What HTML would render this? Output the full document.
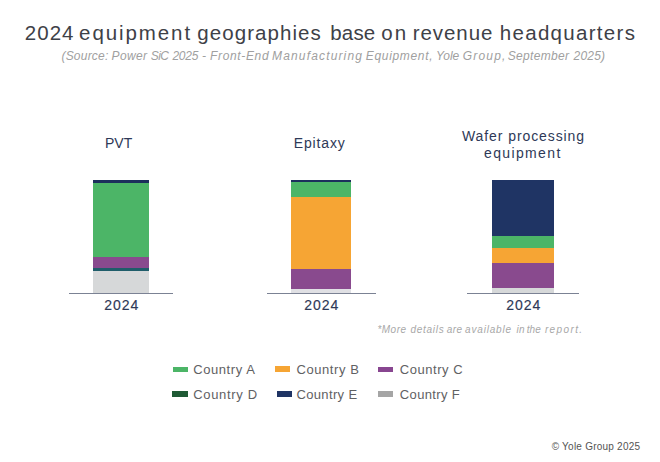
<!DOCTYPE html>
<html>
<head>
<meta charset="utf-8">
<style>
html,body{margin:0;padding:0;background:#fff;}
body{width:660px;height:462px;position:relative;overflow:hidden;font-family:"Liberation Sans",sans-serif;}
.t{position:absolute;white-space:nowrap;line-height:1;}
.b{position:absolute;}
.tw{top:23px;font-size:20.5px;color:#3e4147;letter-spacing:1.1px;}
.sw2{top:49.5px;font-size:12px;font-style:italic;color:#a0a0a0;letter-spacing:0.45px;}
.cat{font-size:14px;color:#2e3957;}
.yr{font-size:14px;color:#2e3957;-webkit-text-stroke:0.15px #2e3957;}
.ax{position:absolute;height:1.4px;background:#7b8294;top:293px;}
.nw{top:325px;font-size:10px;font-style:italic;color:#a8a8a8;letter-spacing:0.6px;}
.lg{font-size:13px;color:#5f6163;}
.sw{position:absolute;width:15px;height:5px;}
#copy{top:442px;font-size:10px;color:#545454;}
</style>
</head>
<body>
<div class="t tw" id="w1" style="left:24.68px;letter-spacing:1.08px;">2024</div>
<div class="t tw" id="w2" style="left:79.12px;letter-spacing:1.91px;">equipment</div>
<div class="t tw" id="w3" style="left:197.30px;letter-spacing:1.06px;">geographies</div>
<div class="t tw" id="w4" style="left:330.30px;letter-spacing:0.17px;">base</div>
<div class="t tw" id="w5" style="left:381.16px;letter-spacing:2.30px;">on</div>
<div class="t tw" id="w6" style="left:412.77px;letter-spacing:0.93px;">revenue</div>
<div class="t tw" id="w7" style="left:499.81px;letter-spacing:1.30px;">headquarters</div>
<div class="t sw2" id="s1" style="left:61.43px;letter-spacing:0.22px;">(Source:</div>
<div class="t sw2" id="s2" style="left:111.51px;letter-spacing:0.38px;">Power</div>
<div class="t sw2" id="s3" style="left:150.85px;letter-spacing:-0.6px;">SiC</div>
<div class="t sw2" id="s4" style="left:172.41px;letter-spacing:-0.22px;">2025</div>
<div class="t sw2" id="s5" style="left:202.0px;">-</div>
<div class="t sw2" id="s6" style="left:210.12px;letter-spacing:0.64px;">Front-End</div>
<div class="t sw2" id="s7" style="left:272.08px;letter-spacing:1.15px;">Manufacturing</div>
<div class="t sw2" id="s8" style="left:365.87px;letter-spacing:0.66px;">Equipment,</div>
<div class="t sw2" id="s9" style="left:436.12px;letter-spacing:-0.09px;">Yole</div>
<div class="t sw2" id="s10" style="left:462.71px;letter-spacing:1.20px;">Group,</div>
<div class="t sw2" id="s11" style="left:507.73px;letter-spacing:0.33px;">September</div>
<div class="t sw2" id="s12" style="left:573.60px;letter-spacing:0.19px;">2025)</div>

<div class="t cat" id="c1" style="left:104.89px;letter-spacing:0.04px;top:136px;">PVT</div>
<div class="t cat" id="c2" style="left:293.71px;letter-spacing:0.86px;top:136px;">Epitaxy</div>
<div class="t cat" id="c3a" style="left:462.03px;letter-spacing:0.91px;top:129px;">Wafer processing</div>
<div class="t cat" id="c3b" style="left:483.99px;letter-spacing:1.37px;top:146px;">equipment</div>

<!-- PVT bar -->
<div class="b" style="left:93px;top:180px;width:56px;height:2.5px;background:#1c2f5c;"></div>
<div class="b" style="left:93px;top:182.5px;width:56px;height:74.5px;background:#4cb567;"></div>
<div class="b" style="left:93px;top:257px;width:56px;height:11px;background:#894a8e;"></div>
<div class="b" style="left:93px;top:268px;width:56px;height:3px;background:#1f5d6a;"></div>
<div class="b" style="left:93px;top:271px;width:56px;height:21.5px;background:#d6d8d9;"></div>

<!-- Epitaxy bar -->
<div class="b" style="left:291px;top:180px;width:60px;height:2px;background:#1c2f5c;"></div>
<div class="b" style="left:291px;top:182px;width:60px;height:14.5px;background:#4cb567;"></div>
<div class="b" style="left:291px;top:196.5px;width:60px;height:72px;background:#f6a534;"></div>
<div class="b" style="left:291px;top:268.5px;width:60px;height:20.5px;background:#894a8e;"></div>
<div class="b" style="left:291px;top:289px;width:60px;height:4px;background:#e0e0e4;"></div>

<!-- Wafer bar -->
<div class="b" style="left:492px;top:179.5px;width:62px;height:56px;background:#1f3464;"></div>
<div class="b" style="left:492px;top:235.5px;width:62px;height:12px;background:#4cb567;"></div>
<div class="b" style="left:492px;top:247.5px;width:62px;height:15px;background:#f6a534;"></div>
<div class="b" style="left:492px;top:262.5px;width:62px;height:25px;background:#894a8e;"></div>
<div class="b" style="left:492px;top:287.5px;width:62px;height:5px;background:#d6d8d9;"></div>

<div class="ax" style="left:69px;width:104px;"></div>
<div class="ax" style="left:267px;width:109px;"></div>
<div class="ax" style="left:467px;width:112px;"></div>

<div class="t yr" id="y1" style="left:104.15px;letter-spacing:1.03px;top:298px;">2024</div>
<div class="t yr" id="y2" style="left:304.15px;letter-spacing:0.97px;top:298px;">2024</div>
<div class="t yr" id="y3" style="left:506.15px;letter-spacing:1.02px;top:298px;">2024</div>

<div class="t nw" id="n1" style="left:377.47px;letter-spacing:0.46px;">*More</div>
<div class="t nw" id="n2" style="left:410.52px;letter-spacing:0.72px;">details</div>
<div class="t nw" id="n3" style="left:446.84px;letter-spacing:0.37px;">are</div>
<div class="t nw" id="n4" style="left:465.10px;letter-spacing:0.81px;">available</div>
<div class="t nw" id="n5" style="left:516.39px;letter-spacing:0.42px;">in</div>
<div class="t nw" id="n6" style="left:526.72px;letter-spacing:0.08px;">the</div>
<div class="t nw" id="n7" style="left:544.89px;letter-spacing:1.39px;">report.</div>

<div class="sw" style="left:172.7px;top:366.5px;width:15.5px;height:5.4px;background:#4cb567;"></div>
<div class="sw" style="left:274.8px;top:366px;height:5.8px;background:#f6a534;"></div>
<div class="sw" style="left:378px;top:366.8px;height:5.5px;background:#884690;"></div>
<div class="sw" style="left:172px;top:391px;width:15.5px;height:5.6px;background:#1f5a35;"></div>
<div class="sw" style="left:276.6px;top:391px;width:15.5px;height:5.8px;background:#1f3464;"></div>
<div class="sw" style="left:378px;top:391.4px;height:5.6px;background:#a5a5a5;"></div>

<div class="t lg" id="l1" style="left:193.28px;letter-spacing:0.56px;top:363px;">Country A</div>
<div class="t lg" id="l2" style="left:296.52px;letter-spacing:0.56px;top:363px;">Country B</div>
<div class="t lg" id="l3" style="left:399.81px;letter-spacing:0.53px;top:363px;">Country C</div>
<div class="t lg" id="l4" style="left:193.28px;letter-spacing:0.67px;top:388px;">Country D</div>
<div class="t lg" id="l5" style="left:296.44px;letter-spacing:0.36px;top:388px;">Country E</div>
<div class="t lg" id="l6" style="left:399.81px;letter-spacing:0.36px;top:388px;">Country F</div>

<div class="t" id="copy" style="left:551.69px;letter-spacing:0.23px;">© Yole Group 2025</div>
</body>
</html>
